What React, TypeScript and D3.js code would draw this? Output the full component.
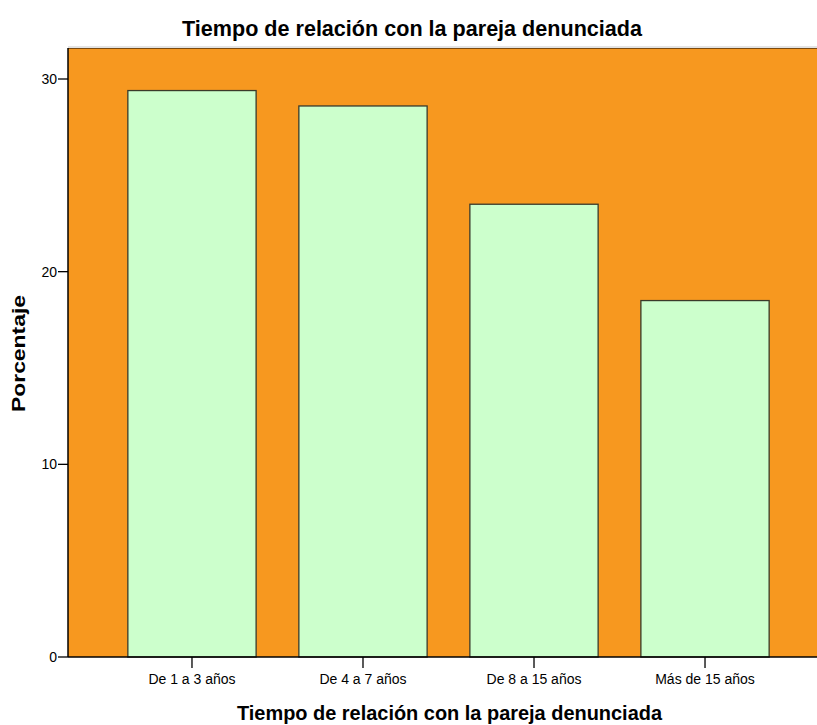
import React from "react";
import * as d3 from "d3";

const categories = ["De 1 a 3 años", "De 4 a 7 años", "De 8 a 15 años", "Más de 15 años"];
const values = [29.4, 28.6, 23.5, 18.5];
const yTicks = [0, 10, 20, 30];
const title = "Tiempo de relación con la pareja denunciada";
const xTitle = "Tiempo de relación con la pareja denunciada";
const yTitle = "Porcentaje";

const W = 817;
const H = 725;
const FONT = "'Liberation Sans', Arial, sans-serif";

export default function App() {
  const left = 68;
  const top = 48;
  const bottom = 657;
  const y = d3.scaleLinear().domain([0, 30]).range([bottom, 79]);
  const x = d3
    .scaleBand<string>()
    .domain(categories)
    .range([left, left + 761])
    .paddingInner(0.25)
    .paddingOuter(0.35);

  return (
    <svg
      width={W}
      height={H}
      style={{ position: "absolute", left: 0, top: 0, background: "#fff" }}
      fontFamily={FONT}
    >
      <rect x={left} y={top} width={W - left} height={bottom - top} fill="#F7981F" />
      <line x1={left} x2={W} y1={top - 1} y2={top - 1} stroke="#c8c8c8" strokeWidth={1} />
      <line x1={left} x2={W} y1={top + 0.5} y2={top + 0.5} stroke="#7a4a10" strokeWidth={1} />
      {categories.map((c, i) => (
        <rect
          key={c}
          x={x(c)!}
          y={y(values[i])}
          width={x.bandwidth()}
          height={bottom - y(values[i])}
          fill="#CCFFCC"
          stroke="#3a3a2a"
          strokeWidth={1.3}
        />
      ))}
      <line x1={left} x2={left} y1={top} y2={bottom} stroke="#000" strokeWidth={1.5} />
      <line x1={left} x2={W} y1={bottom} y2={bottom} stroke="#000" strokeWidth={1.5} />
      {yTicks.map((t) => (
        <g key={t}>
          <line x1={left - 10} x2={left} y1={y(t)} y2={y(t)} stroke="#000" strokeWidth={1.3} />
          <text x={left - 11} y={y(t)} dy="0.36em" textAnchor="end" fontSize={14} fill="#000">
            {t}
          </text>
        </g>
      ))}
      {categories.map((c) => {
        const cx = x(c)! + x.bandwidth() / 2;
        return (
          <g key={c}>
            <line x1={cx} x2={cx} y1={bottom} y2={bottom + 11} stroke="#000" strokeWidth={1.3} />
            <text x={cx} y={684} textAnchor="middle" fontSize={14} fill="#000">
              {c}
            </text>
          </g>
        );
      })}
      <text
        x={412}
        y={36}
        textAnchor="middle"
        fontSize={22}
        fontWeight="bold"
        fill="#000"
        textLength={460}
        lengthAdjust="spacingAndGlyphs"
      >
        {title}
      </text>
      <text
        x={449.5}
        y={720}
        textAnchor="middle"
        fontSize={20}
        fontWeight="bold"
        fill="#000"
        textLength={425}
        lengthAdjust="spacingAndGlyphs"
      >
        {xTitle}
      </text>
      <text
        transform={`translate(25, 353.5) rotate(-90)`}
        textAnchor="middle"
        fontSize={18}
        fontWeight="bold"
        fill="#000"
        textLength={117}
        lengthAdjust="spacingAndGlyphs"
      >
        {yTitle}
      </text>
    </svg>
  );
}
